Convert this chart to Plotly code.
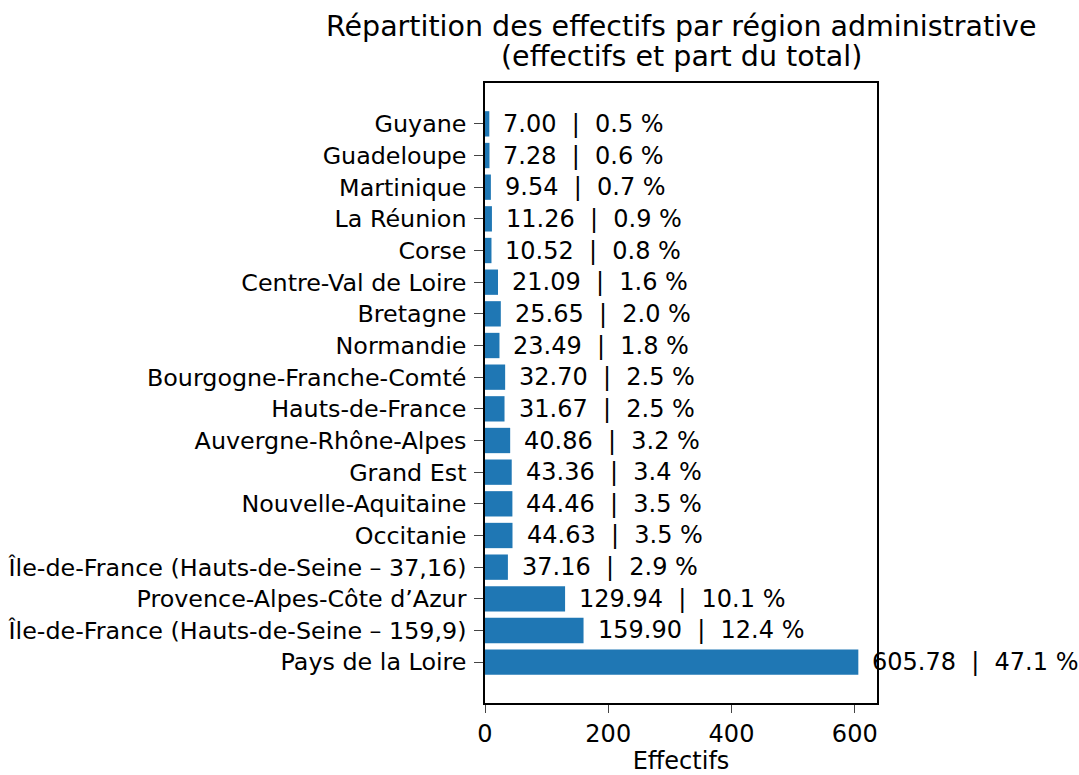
import plotly.graph_objects as go

regions = [
    "Pays de la Loire",
    "Île-de-France (Hauts-de-Seine – 159,9)",
    "Provence-Alpes-Côte d’Azur",
    "Île-de-France (Hauts-de-Seine – 37,16)",
    "Occitanie",
    "Nouvelle-Aquitaine",
    "Grand Est",
    "Auvergne-Rhône-Alpes",
    "Hauts-de-France",
    "Bourgogne-Franche-Comté",
    "Normandie",
    "Bretagne",
    "Centre-Val de Loire",
    "Corse",
    "La Réunion",
    "Martinique",
    "Guadeloupe",
    "Guyane",
]
effectifs = [605.78, 159.90, 129.94, 37.16, 44.63, 44.46, 43.36, 40.86, 31.67,
             32.70, 23.49, 25.65, 21.09, 10.52, 11.26, 9.54, 7.28, 7.00]
parts = [47.1, 12.4, 10.1, 2.9, 3.5, 3.5, 3.4, 3.2, 2.5, 2.5, 1.8, 2.0, 1.6,
         0.8, 0.9, 0.7, 0.6, 0.5]
x_ticks = [0, 200, 400, 600]
title_lines = ["Répartition des effectifs par région administrative",
               "(effectifs et part du total)"]

FONT = "DejaVu Sans"
COLOR = "#1f77b4"
positions = list(range(len(regions)))

W, H = 1079, 775
L, T, R, B = 485, 83, 202, 72
PH = H - T - B

fig = go.Figure()
fig.add_trace(go.Bar(
    x=effectifs, y=positions, orientation="h", width=0.8,
    marker=dict(color=COLOR, line=dict(width=0)),
    hoverinfo="skip",
))

sp = "\u00a0"
for pos, v, p in zip(positions, effectifs, parts):
    fig.add_annotation(
        x=v, y=pos, xref="x", yref="y",
        text=f"{v:.2f}{sp}{sp}|{sp}{sp}{p:.1f}{sp}%",
        showarrow=False, xanchor="left", yanchor="middle", xshift=12,
        font=dict(family=FONT, size=24, color="black"),
    )

for line, ypix in zip(title_lines, [27, 57]):
    fig.add_annotation(
        x=0.5, y=(H - B - ypix) / PH, xref="paper", yref="paper",
        text=line, showarrow=False, xanchor="center", yanchor="middle",
        font=dict(family=FONT, size=28.5, color="black"),
    )

xmax = max(effectifs) * 1.05
n = len(regions)
fig.update_layout(
    width=W, height=H,
    margin=dict(l=L, r=R, t=T, b=B, autoexpand=False),
    plot_bgcolor="white", paper_bgcolor="white",
    showlegend=False,
    font=dict(family=FONT, size=24, color="black"),
    xaxis=dict(
        range=[0, xmax], tickvals=x_ticks, ticks="outside", ticklen=8, tickwidth=1.3,
        automargin=False,
        showline=True, linecolor="black", linewidth=1.5, mirror=True,
        showgrid=False, zeroline=False,
        title=dict(text="Effectifs", standoff=16, font=dict(family=FONT, size=24)),
        tickfont=dict(family=FONT, size=24),
    ),
    yaxis=dict(
        range=[-0.4 - 0.89, n - 1 + 0.4 + 0.89],
        tickvals=positions, ticktext=regions, automargin=False,
        ticks="outside", ticklen=9, tickwidth=1.3, ticklabelstandoff=3,
        showline=True, linecolor="black", linewidth=1.5, mirror=True,
        showgrid=False, zeroline=False,
        tickfont=dict(family=FONT, size=23.8),
    ),
)

fig.write_html(
    "out.html",
    config={"displayModeBar": False},
    post_script="document.body.style.margin='0';document.body.style.overflow='hidden';",
)
